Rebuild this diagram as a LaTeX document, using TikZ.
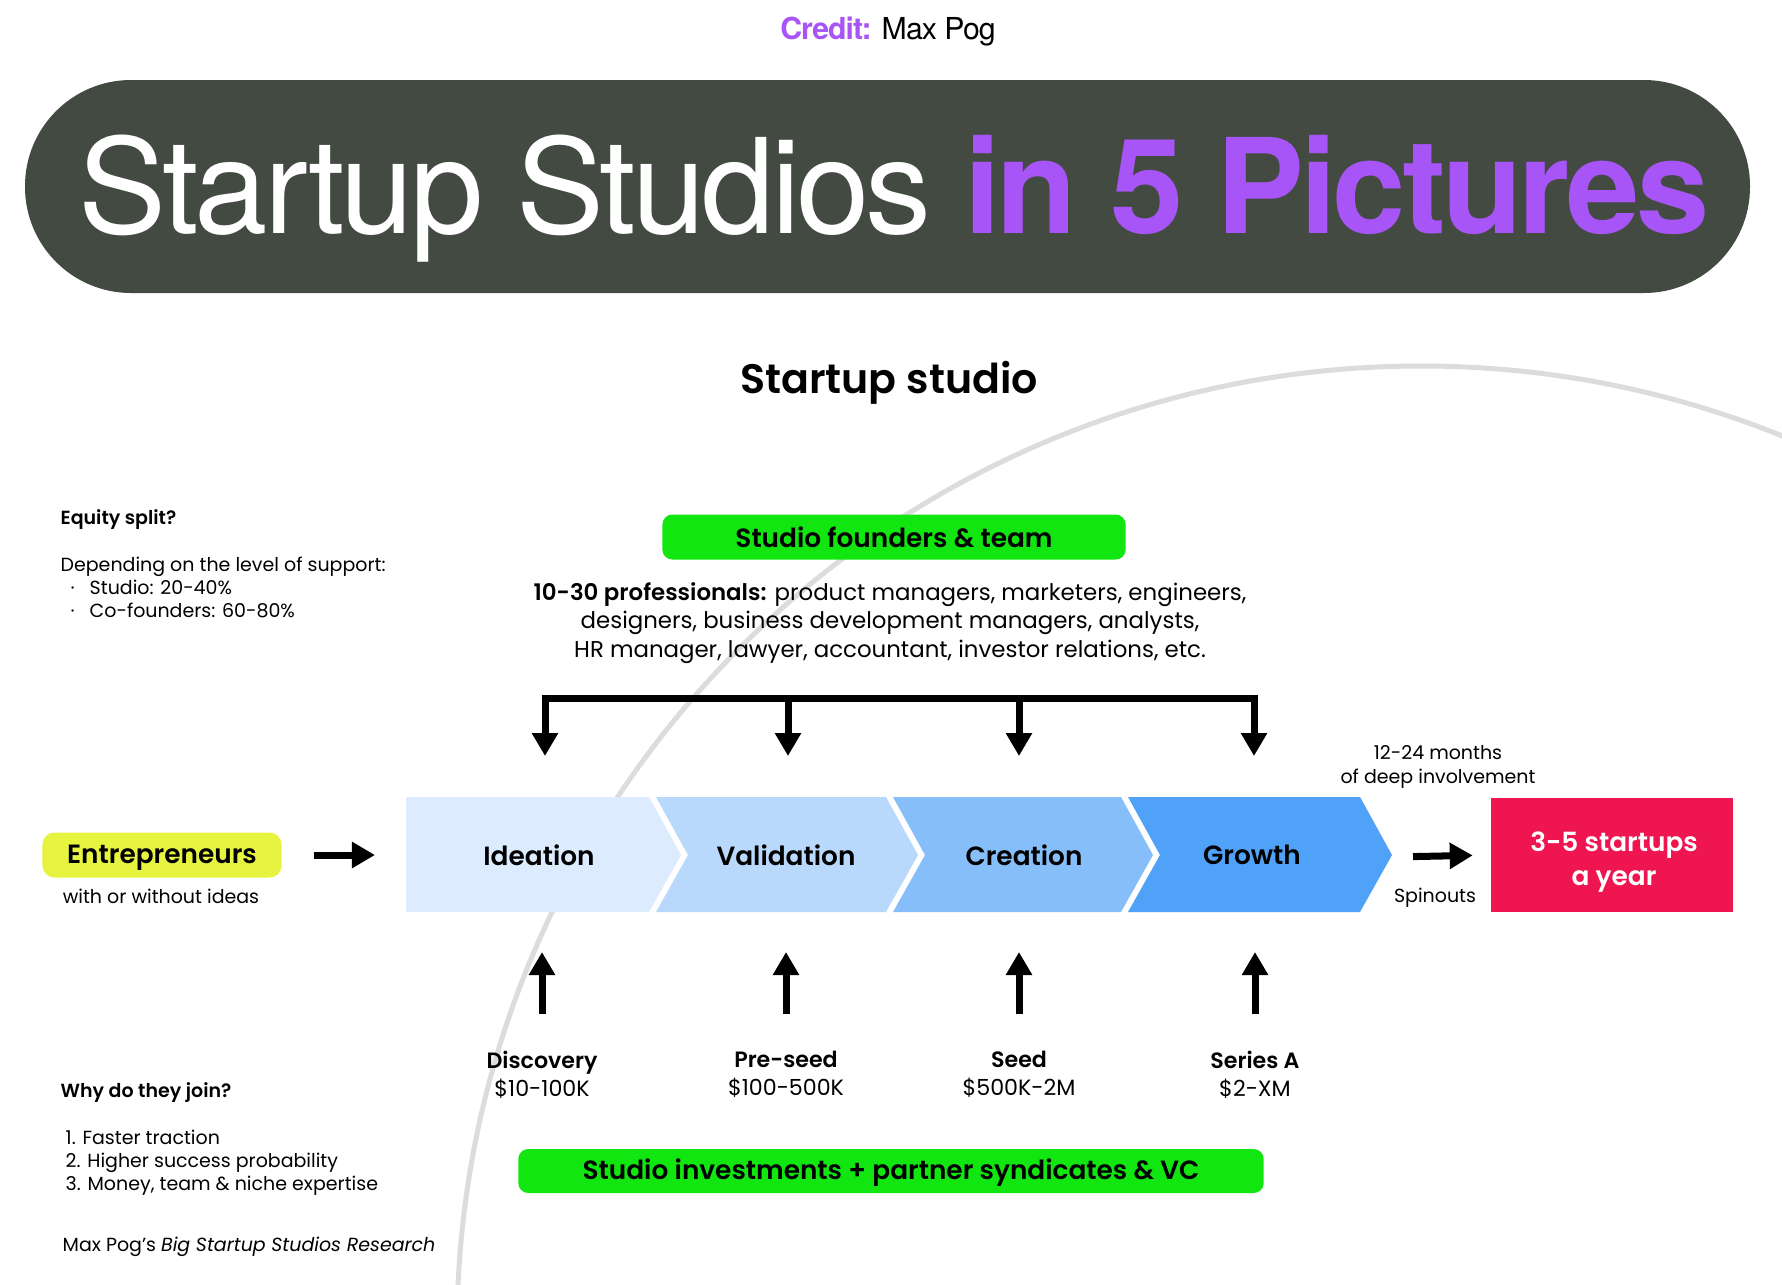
\documentclass[tikz,border=0pt]{standalone}
\usepackage{fontspec}
\setmainfont{Poppins}[BoldFont={Poppins SemiBold}]
\newfontfamily\titlefont[LetterSpace=-3]{TeX Gyre Heros}
\usetikzlibrary{arrows.meta, positioning}

\definecolor{pillgray}{HTML}{424A41}
\definecolor{purp}{HTML}{A855F7}
\definecolor{teamgreen}{HTML}{11E611}
\definecolor{entyellow}{HTML}{E6F43F}
\definecolor{spinred}{HTML}{EE1550}
\definecolor{ideablue}{HTML}{DCEBFE}
\definecolor{valblue}{HTML}{B8D8FC}
\definecolor{creblue}{HTML}{86BEFA}
\definecolor{growblue}{HTML}{4FA2F8}
\definecolor{arcgray}{HTML}{DCDCDC}

\begin{document}
\begin{tikzpicture}[
    x=0.01cm, y=-0.01cm,
    stage/.style={font=\fontsize{7.5}{9}\selectfont\bfseries, inner sep=0},
    greenbox/.style={fill=teamgreen, rounded corners=0.1cm, inner sep=0,
        minimum height=0.45cm, font=\fontsize{7.5}{9}\selectfont\bfseries},
    note/.style={font=\fontsize{5.4}{6.6}\selectfont, align=left, inner sep=0},
    round/.style={font=\fontsize{6.3}{8.2}\selectfont, align=center, inner sep=0},
    fatarrow/.style={line width=0.07cm, -{Triangle[width=0.25cm, length=0.23cm]}}
]
    \fill[white] (0,0) rectangle (1782,1284);
    \useasboundingbox (0,0) rectangle (1782,1284);
    \clip (0,0) rectangle (1782,1284);

    % background arc
    \draw[arcgray, line width=0.05cm] (1421,1330) circle[radius=964];

    % title
    \node[font=\titlefont\fontsize{8.6}{10}\selectfont, inner sep=0] (credit) at (888,32)
        {\textcolor{purp}{\bfseries Credit:} Max Pog};
    \fill[pillgray, rounded corners=1.06cm] (25,80) rectangle (1750,293);
    \node[anchor=base west, inner sep=0, text=white,
        font=\titlefont\fontsize{37.5}{40}\selectfont] (title) at (78,233)
        {Startup Studios \textcolor{purp}{\bfseries in 5 Pictures}};

    \node[font=\fontsize{11.7}{13}\selectfont\bfseries, inner sep=0] (heading) at (889,383) {Startup studio};

    % left notes
    \node[note, anchor=west, font=\fontsize{5.4}{6.6}\selectfont\bfseries] (eqhead) at (60,520) {Equity split?};
    \node[note, anchor=north west] (eqbody) at (60,556)
        {Depending on the level of support:\\
         \hspace*{0.1cm}\textperiodcentered\hspace{0.15cm}Studio: 20-40\%\\
         \hspace*{0.1cm}\textperiodcentered\hspace{0.15cm}Co-founders: 60-80\%};
    \node[note, anchor=west, font=\fontsize{5.4}{6.6}\selectfont\bfseries] (whyhead) at (60,1093) {Why do they join?};
    \node[note, anchor=north west] (whybody) at (65,1129)
        {1. Faster traction\\ 2. Higher success probability\\ 3. Money, team \& niche expertise};
    \node[note, anchor=west] (research) at (62,1247) {Max Pog's \textit{Big Startup Studios Research}};

    % studio team
    \node[greenbox, minimum width=4.63cm] (team) at (894,537) {Studio founders \& team};
    \node[font=\fontsize{6.5}{8.1}\selectfont, align=center, inner sep=0] (pros) at (890,623)
        {\textbf{10-30 professionals:} product managers, marketers, engineers,\\
         designers, business development managers, analysts,\\
         HR manager, lawyer, accountant, investor relations, etc.};

    % stages
    \fill[ideablue] (406,797) -- (649,797) -- (681,855) -- (649,912) -- (406,912) -- cycle;
    \foreach \xl/\xr/\col in {656/886/valblue, 893/1121/creblue, 1128/1360/growblue}
        \fill[\col] (\xl,797) -- (\xr,797) -- (\xr+32,855) -- (\xr,912) -- (\xl,912) -- (\xl+32,855) -- cycle;
    \node[stage] (ideation) at (539,855) {Ideation};
    \node[stage] (validation) at (786,855) {Validation};
    \node[stage] (creation) at (1024,855) {Creation};
    \node[stage] (growth) at (1252,855) {Growth};

    \coordinate (ideaL) at (406,855);
    \coordinate (growTip) at (1392,857);
    \coordinate (d1) at (545,756);
    \coordinate (d2) at (788,698);
    \coordinate (d3) at (1019,698);
    \coordinate (d4) at (1254,756);

    % team arrows
    \draw[line width=0.07cm, line join=miter, {Triangle[width=0.25cm, length=0.23cm]}-{Triangle[width=0.25cm, length=0.23cm]}]
        (d1) |- (d2) -| (d4);
    \draw[fatarrow] (d2) -- (788,756);
    \draw[fatarrow] (d3) -- (1019,756);

    % entrepreneurs
    \node[fill=entyellow, rounded corners=0.12cm, minimum width=2.39cm, minimum height=0.45cm,
        inner sep=0, font=\fontsize{7.5}{9}\selectfont\bfseries] (entre) at (162,855)
        {\raisebox{-0.03cm}[\height][\depth]{Entrepreneurs}};
    \node[note] (entrenote) at (161,896) {with or without ideas};
    \draw[fatarrow, shorten <=0.32cm, shorten >=0.31cm] (entre.east) -- (ideaL);

    % spinouts
    \node[fill=spinred, minimum width=2.41cm, minimum height=1.13cm, inner sep=0] (spin) at (1612,855) {};
    \node[text=white, align=center, inner sep=0, font=\fontsize{7.5}{9.6}\selectfont\bfseries]
        (spintext) at (1614,862) {3-5 startups\\a year};
    \draw[fatarrow, shorten <=0.21cm, shorten >=0.18cm] (growTip) -- (spin.west);
    \node[note] (spinnote) at (1435,898) {Spinouts};
    \node[note, align=center] (months) at (1438,767) {12-24 months\\of deep involvement};

    % funding rounds
    \node[round, anchor=north] (disc) at (542,1050) {\textbf{Discovery}\\\$10-100K};
    \node[round, anchor=north] (pre) at (786,1050) {\textbf{Pre-seed}\\\$100-500K};
    \node[round, anchor=north] (seed) at (1019,1050) {\textbf{Seed}\\\$500K-2M};
    \node[round, anchor=north] (sera) at (1255,1050) {\textbf{Series A}\\\$2-XM};
    \foreach \n in {disc, pre, seed, sera}
        \draw[fatarrow, shorten <=0.36cm] (\n.north) -- ++(0,-98);

    \node[greenbox, minimum width=7.45cm, minimum height=0.44cm] (invest) at (891,1171)
        {\raisebox{-0.02cm}[\height][\depth]{Studio investments + partner syndicates \& VC}};
\end{tikzpicture}
\end{document}
